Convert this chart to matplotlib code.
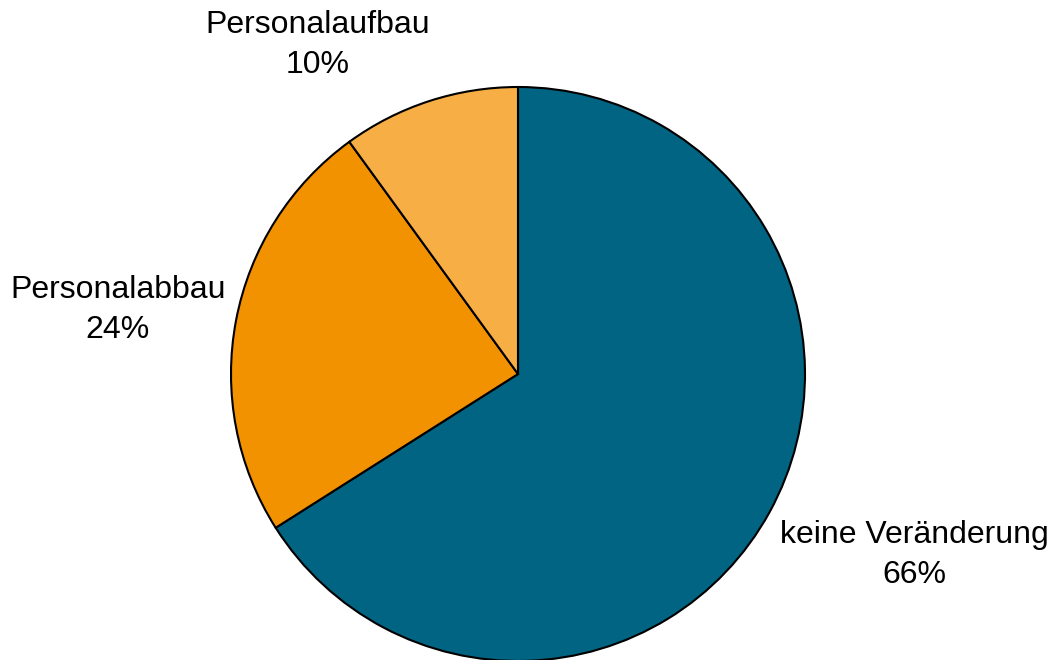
import matplotlib
matplotlib.use('Agg')
import matplotlib.pyplot as plt

labels = ['keine Veränderung', 'Personalabbau', 'Personalaufbau']
values = [66, 24, 10]
colors = ['#006482', '#F39200', '#F6AE45']
# label anchor points (pie radius = 1, center = 0,0)
label_x = [1.38, -1.394, -0.697]
label_y = [-0.631, 0.223, 1.146]

plt.rcParams['font.family'] = ['Liberation Sans', 'DejaVu Sans']

fig = plt.figure(figsize=(10.5, 6.6), dpi=100)
ax = fig.add_axes([0, 0, 1, 1])

ax.pie(values, colors=colors, startangle=90, counterclock=False, radius=1,
       wedgeprops=dict(edgecolor='black', linewidth=1.5))

for name, v, x, y in zip(labels, values, label_x, label_y):
    ax.text(x, y, f'{name}\n{v}%', ha='center', va='center',
            fontsize=23, linespacing=1.42)

ax.set_xlim(-518 / 287, (1050 - 518) / 287)
ax.set_ylim((374 - 660) / 287, 374 / 287)
ax.set_aspect('auto')
ax.axis('off')

fig.savefig('out.png', dpi=100)
